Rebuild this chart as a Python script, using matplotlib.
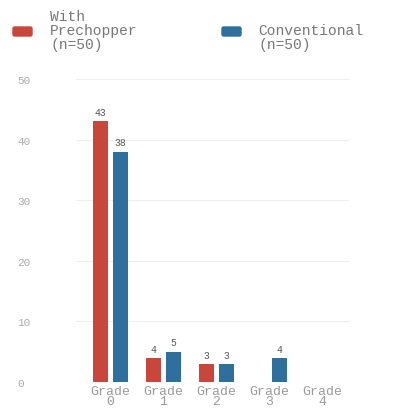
import matplotlib
matplotlib.use("Agg")
import matplotlib.pyplot as plt
from matplotlib.patches import FancyBboxPatch
import numpy as np

categories = ["Grade\n0", "Grade\n1", "Grade\n2", "Grade\n3", "Grade\n4"]
series_names = ["With\nPrechopper\n(n=50)", "Conventional\n(n=50)"]
prechopper = [43, 4, 3, 0, 0]
conventional = [38, 5, 3, 4, 0]
yticks = [0, 10, 20, 30, 40, 50]

red = "#c9463d"
blue = "#2e6f9e"
mono = ["Liberation Mono", "DejaVu Sans Mono"]

fig = plt.figure(figsize=(4.11, 4.14), dpi=100)
W, H = 411, 414
ax = fig.add_axes([76 / W, 31 / H, (349 - 76) / W, (383 - 80) / H])

x = np.arange(len(categories))
bw = 0.28
off = 0.19
ax.bar(x - off, prechopper, bw, color=red, zorder=3)
ax.bar(x + off, conventional, bw, color=blue, zorder=3)

for xi, v in zip(x, prechopper):
    if v > 0:
        ax.text(xi - off, v + 0.7, str(v), ha="center", va="bottom",
                fontsize=7, color="#555555", family=mono)
for xi, v in zip(x, conventional):
    if v > 0:
        ax.text(xi + off, v + 0.7, str(v), ha="center", va="bottom",
                fontsize=7, color="#555555", family=mono)

ax.set_xlim(-0.65, 4.5)
ax.set_ylim(0, 50)
ax.set_yticks(yticks)
ax.set_yticklabels([str(t) for t in yticks], family=mono, fontsize=8,
                   color="#aaaaaa", ha="left")
ax.tick_params(axis="y", length=0, pad=42)
ax.set_xticks(x)
ax.set_xticklabels(categories, family=mono, fontsize=9.5, color="#999999",
                   linespacing=0.85)
ax.tick_params(axis="x", length=0, pad=2)
ax.grid(axis="y", color="#eeeeee", linewidth=0.8, zorder=0)
for s in ax.spines.values():
    s.set_visible(False)

# legend
fig.patches.append(FancyBboxPatch((13 / W, 1 - 37 / H), 19 / W, 9 / H,
                                  boxstyle="round,pad=0,rounding_size=0.004",
                                  transform=fig.transFigure, color=red))
fig.patches.append(FancyBboxPatch((222 / W, 1 - 37 / H), 19 / W, 9 / H,
                                  boxstyle="round,pad=0,rounding_size=0.004",
                                  transform=fig.transFigure, color=blue))
fig.text(50 / W, 1 - 10 / H, series_names[0], ha="left", va="top",
         family=mono, fontsize=10.5, color="#777777", linespacing=1.0)
fig.text(258 / W, 1 - 24 / H, series_names[1], ha="left", va="top",
         family=mono, fontsize=10.5, color="#777777", linespacing=1.0)

fig.savefig("out.png", dpi=100)
